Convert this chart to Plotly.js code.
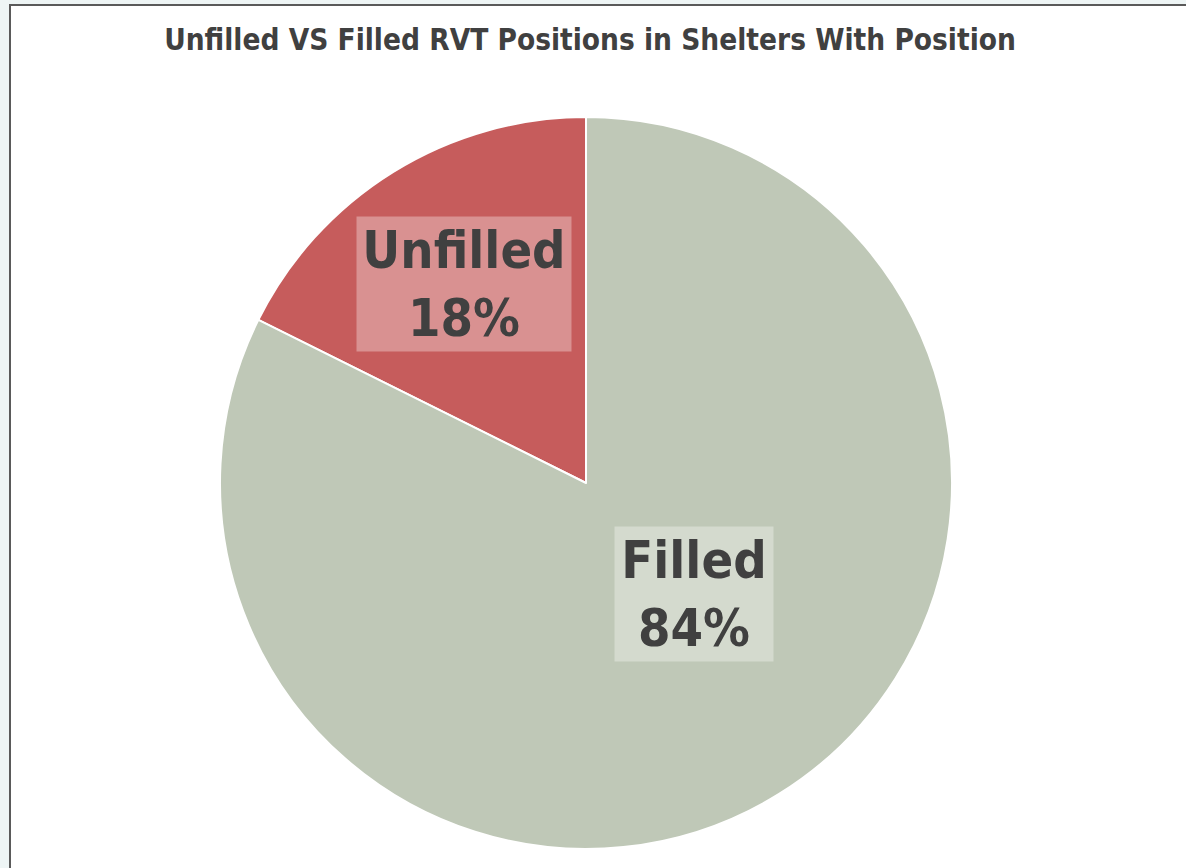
<!DOCTYPE html>
<html>
<head>
<meta charset="utf-8">
<script src="https://cdn.plot.ly/plotly-3.0.1.min.js"></script>
<style>
  html, body { margin: 0; padding: 0; background: #eef5f5; width: 1186px; height: 868px; overflow: hidden; }
  #chart { position: absolute; left: 9px; top: 4px; width: 1175px; height: 862px;
           border-top: 2px solid #5a5a5a; border-left: 2px solid #5a5a5a; background: #ffffff; }
</style>
</head>
<body>
<div id="chart"></div>
<script>
// ---- data ----
const categories = ['Unfilled', 'Filled'];
const values = [18, 84];              // shown as percentages on the labels
const sliceColors = ['#c65c5c', '#bfc8b7'];
const chartTitle = 'Unfilled VS Filled RVT Positions in Shelters With Position';

// label placement (paper coordinates) and box sizes – style only
const labelPos = [[0.394, 0.772], [0.594, 0.348]];
const labelBox = [[206, 126], [150, 126]];

const FONT = '"DejaVu Sans Condensed", "DejaVu Sans", sans-serif';

// first slice ends at 12 o'clock (drawn to its left)
const total = values.reduce((a, b) => a + b, 0);
const startRotation = -360 * values[0] / total;

const trace = {
  type: 'pie',
  labels: categories,
  values: values,
  sort: false,
  direction: 'clockwise',
  rotation: startRotation,
  textinfo: 'none',
  hoverinfo: 'none',
  showlegend: false,
  marker: { colors: sliceColors, line: { color: '#ffffff', width: 2 } }
};

const annotations = categories.map((c, i) => ({
  xref: 'paper', yref: 'paper',
  x: labelPos[i][0], y: labelPos[i][1],
  xanchor: 'center', yanchor: 'middle',
  text: c + '<br>' + values[i] + '%',
  showarrow: false,
  width: labelBox[i][0], height: labelBox[i][1],
  font: { family: FONT, size: 52, color: '#404040', weight: 'bold' },
  bgcolor: 'rgba(255,255,255,0.33)',
  borderpad: 4
}));

const layout = {
  width: 1175, height: 862,
  margin: { l: 0, r: 25, t: 111, b: 19 },
  paper_bgcolor: '#ffffff',
  title: {
    text: chartTitle,
    font: { family: FONT, size: 29.5, color: '#404040', weight: 'bold' },
    xref: 'container', x: 579 / 1175, xanchor: 'center',
    yref: 'container', y: 1 - 34 / 862, yanchor: 'middle'
  },
  annotations: annotations
};

Plotly.newPlot('chart', [trace], layout, { displayModeBar: false, staticPlot: true });
</script>
</body>
</html>
